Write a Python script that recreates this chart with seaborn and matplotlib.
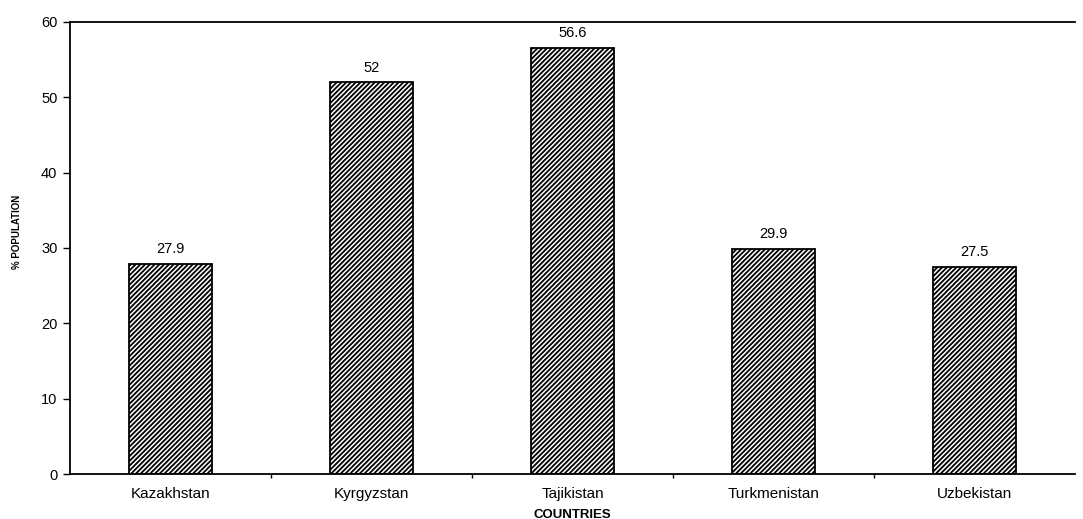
import matplotlib
matplotlib.use("Agg")
import matplotlib.pyplot as plt
import seaborn as sns
import pandas as pd
import numpy as np
from matplotlib.ticker import FixedLocator

countries = ["Kazakhstan", "Kyrgyzstan", "Tajikistan", "Turkmenistan", "Uzbekistan"]
poverty = [27.9, 52, 56.6, 29.9, 27.5]
value_labels = ["27.9", "52", "56.6", "29.9", "27.5"]
y_ticks = [0, 10, 20, 30, 40, 50, 60]

sns.set_theme(style="white")
plt.rcParams["font.family"] = ["Liberation Sans", "DejaVu Sans"]
plt.rcParams["hatch.linewidth"] = 1.3
plt.rcParams["hatch.color"] = "black"
plt.rcParams["text.color"] = "black"
plt.rcParams["axes.labelcolor"] = "black"
plt.rcParams["xtick.color"] = "black"
plt.rcParams["ytick.color"] = "black"

df = pd.DataFrame({"country": countries, "pct": poverty})

fig = plt.figure(figsize=(10.83, 5.19), dpi=100)
ax = fig.add_axes([0.0646, 0.0867, 0.928, 0.871])

sns.barplot(data=df, x="country", y="pct", color="white", edgecolor="black",
            linewidth=1.3, width=0.41, ax=ax)
for p in ax.patches:
    p.set_hatch("///////")

for i, (v, lab) in enumerate(zip(poverty, value_labels)):
    ax.text(i, v + 1.0, lab, ha="center", va="bottom", fontsize=10.5, color="black")

ax.set_xlim(-0.5, 4.5)
ax.set_ylim(0, 60)
ax.set_yticks(y_ticks)
ax.set_yticklabels([str(t) for t in y_ticks], fontsize=10.5)
ax.tick_params(axis="y", direction="out", length=5, width=1, color="black", pad=4, left=True)
ax.tick_params(axis="x", which="major", length=0, pad=9, labelsize=11)
ax.xaxis.set_minor_locator(FixedLocator(np.arange(0.5, 4.5, 1.0)))
ax.tick_params(axis="x", which="minor", direction="out", length=3, width=1, color="black", bottom=True)

for side in ["left", "bottom", "top"]:
    ax.spines[side].set_visible(True)
    ax.spines[side].set_color("black")
    ax.spines[side].set_linewidth(1.3)
ax.spines["right"].set_visible(False)

ax.set_xlabel("COUNTRIES", fontsize=9.5, fontweight="bold", labelpad=6)
ax.set_ylabel("% POPULATION", fontsize=7, fontweight="bold")
ax.yaxis.set_label_coords(-0.048, 0.535)
ax.grid(False)

fig.savefig("out.png", dpi=100)
